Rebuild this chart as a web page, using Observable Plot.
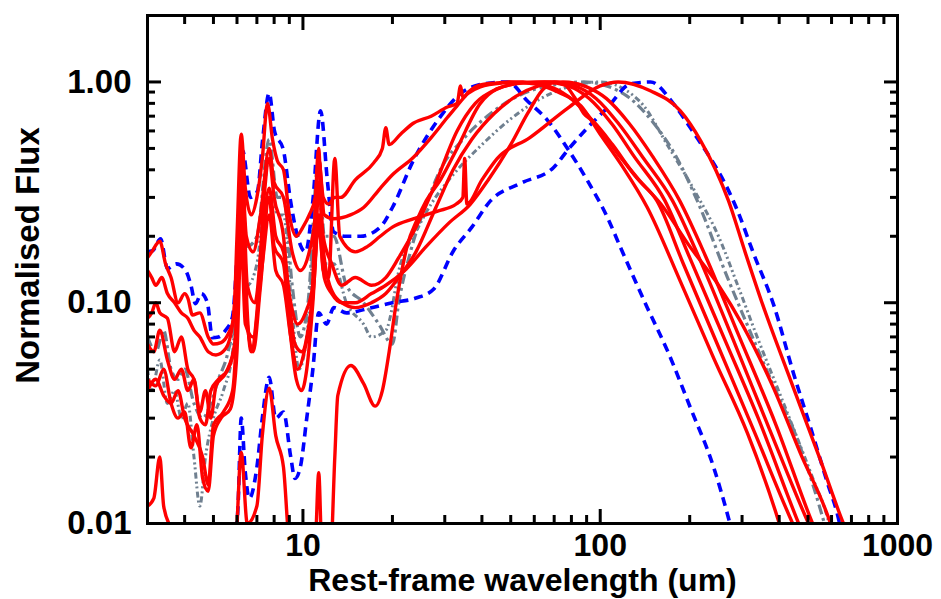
<!DOCTYPE html>
<html><head><meta charset="utf-8">
<script src="https://cdn.jsdelivr.net/npm/d3@7"></script>
<script src="https://cdn.jsdelivr.net/npm/@observablehq/plot@0.6"></script>
<style>html,body{margin:0;padding:0;background:#fff;} #chart{width:941px;height:599px;overflow:hidden}</style>
</head><body><div id="chart"></div>
<script>
// ---- data: [wavelength (um), normalised flux] ----
const red1 = [[3.0,0.16],[3.1,0.17],[3.3,0.19],[3.45,0.15],[3.6,0.13],[3.8,0.1],[4.0,0.11],[4.1,0.105],[4.25,0.088],[4.5,0.09],[4.8,0.07],[5.0,0.065],[5.3,0.066],[5.6,0.072],[5.85,0.085],[6.0,0.2],[6.2,0.58],[6.4,0.33],[6.7,0.25],[7.0,0.3],[7.3,0.45],[7.6,0.8],[7.9,0.55],[8.2,0.44],[8.6,0.4],[9.0,0.25],[9.5,0.2],[10.0,0.22],[10.5,0.25],[11.0,0.3],[11.3,0.45],[11.7,0.3],[12.2,0.28],[12.8,0.3],[13.4,0.3],[15,0.36],[17.3,0.43],[18.5,0.5],[19,0.62],[19.5,0.52],[21.3,0.58],[23.5,0.65],[27,0.7],[30.6,0.77],[33,0.8],[33.9,0.96],[34.5,0.85],[36,0.9],[39.5,0.97],[45,0.99],[50,1.0],[60,0.98],[72,0.9],[86,0.78],[100,0.58],[118,0.42],[144,0.27],[186,0.125],[241,0.056],[313,0.0256],[395,0.0106],[410,0.009]];
const red2 = [[3.0,0.14],[3.1,0.13],[3.2,0.12],[3.35,0.13],[3.5,0.11],[3.7,0.1],[3.9,0.09],[4.1,0.085],[4.3,0.075],[4.5,0.07],[4.8,0.06],[5.1,0.058],[5.5,0.062],[5.8,0.08],[6.0,0.15],[6.2,0.45],[6.45,0.2],[6.8,0.17],[7.2,0.25],[7.7,0.5],[8.0,0.35],[8.6,0.3],[9.2,0.17],[9.8,0.14],[10.5,0.17],[11.0,0.25],[11.3,0.45],[11.8,0.25],[12.7,0.24],[14.45,0.25],[16,0.27],[18.2,0.33],[20,0.38],[23.5,0.455],[27,0.56],[30.6,0.69],[33,0.78],[35.9,0.886],[39.5,0.95],[47,0.99],[55,1.0],[65,0.97],[78,0.86],[95,0.66],[115,0.47],[135,0.36],[155,0.29],[190,0.151],[250,0.063],[330,0.026],[444,0.01],[460,0.009]];
const red3 = [[3.0,0.012],[3.15,0.013],[3.3,0.02],[3.4,0.012],[3.6,0.0095],[4.0,0.007],[5.0,0.005],[5.9,0.007],[6.2,0.021],[6.5,0.01],[7.0,0.012],[7.3,0.025],[7.7,0.041],[8.1,0.025],[8.6,0.018],[9.0,0.008],[10,0.005],[11.0,0.008],[11.3,0.017],[11.6,0.007],[12.3,0.006],[12.8,0.02],[13.1,0.038],[14.5,0.052],[16,0.043],[17.5,0.034],[18.5,0.04],[19.5,0.06],[20.6,0.1],[21.3,0.13],[22.4,0.18],[24.3,0.24],[26,0.29],[29,0.36],[33,0.5],[39.5,0.8],[45,0.93],[55,0.99],[65,1.0],[78,0.96],[92,0.84],[110,0.64],[130,0.46],[165,0.29],[200,0.16],[260,0.07],[340,0.03],[465,0.01],[480,0.009]];
const red4 = [[3.0,0.085],[3.1,0.09],[3.2,0.1],[3.3,0.09],[3.5,0.085],[3.7,0.06],[3.9,0.07],[4.1,0.05],[4.3,0.045],[4.5,0.032],[4.7,0.04],[4.9,0.03],[5.1,0.042],[5.5,0.048],[5.9,0.065],[6.1,0.2],[6.25,0.5],[6.4,0.15],[6.7,0.06],[7.0,0.09],[7.4,0.3],[7.7,0.45],[8.0,0.3],[8.6,0.2],[9.0,0.1],[9.4,0.065],[9.9,0.06],[10.4,0.075],[11.0,0.15],[11.3,0.35],[11.7,0.2],[12.5,0.15],[13.5,0.12],[15,0.13],[17,0.12],[19,0.13],[21,0.16],[24,0.22],[28,0.35],[33,0.6],[38,0.8],[45,0.93],[55,0.99],[68,1.0],[82,0.96],[97,0.84],[115,0.65],[140,0.45],[175,0.29],[215,0.16],[280,0.068],[370,0.027],[502,0.01],[520,0.009]];
const red5 = [[3.0,0.065],[3.15,0.06],[3.3,0.075],[3.5,0.055],[3.7,0.045],[3.9,0.05],[4.1,0.04],[4.3,0.045],[4.5,0.03],[4.7,0.028],[4.9,0.04],[5.2,0.045],[5.6,0.05],[5.9,0.065],[6.1,0.15],[6.25,0.35],[6.5,0.12],[6.9,0.1],[7.3,0.2],[7.7,0.33],[8.1,0.2],[8.6,0.17],[9.1,0.1],[9.6,0.08],[10.2,0.09],[10.8,0.12],[11.3,0.22],[11.8,0.13],[12.5,0.11],[13.5,0.1],[15,0.1],[17,0.11],[19,0.12],[22,0.14],[26,0.18],[31,0.23],[36.6,0.28],[42,0.36],[50,0.52],[57,0.72],[64,0.92],[70,1.0],[76,0.97],[82,0.85],[88,0.72],[95,0.66],[110,0.52],[130,0.38],[160,0.28],[200,0.18],[250,0.12],[300,0.08],[380,0.042],[470,0.021],[595,0.01],[610,0.009]];
const red6 = [[3.0,0.04],[3.2,0.045],[3.4,0.038],[3.6,0.035],[3.8,0.04],[4.0,0.03],[4.3,0.025],[4.6,0.02],[4.8,0.015],[5.0,0.028],[5.4,0.032],[5.8,0.04],[6.0,0.08],[6.2,0.3],[6.4,0.1],[6.8,0.06],[7.2,0.12],[7.7,0.3],[8.0,0.18],[8.6,0.15],[9.0,0.08],[9.5,0.045],[9.9,0.04],[10.3,0.05],[10.8,0.1],[11.3,0.25],[11.7,0.14],[12.2,0.13],[12.8,0.45],[13.3,0.2],[15,0.17],[16.5,0.18],[18.2,0.2],[20,0.22],[23.5,0.24],[28.4,0.26],[32.8,0.28],[34.5,0.3],[35,0.45],[35.6,0.28],[40,0.36],[45,0.45],[58,0.56],[77.6,0.76],[100,0.96],[115,1.0],[148,0.91],[186,0.74],[218,0.54],[270,0.29],[307,0.17],[352,0.098],[437,0.0445],[551,0.0193],[658,0.01],[680,0.009]];
const red7 = [[3.0,0.045],[3.2,0.042],[3.4,0.05],[3.6,0.035],[3.8,0.03],[4.0,0.032],[4.2,0.022],[4.4,0.028],[4.6,0.016],[4.8,0.014],[5.0,0.025],[5.3,0.03],[5.7,0.033],[6.0,0.06],[6.2,0.2],[6.4,0.08],[6.8,0.07],[7.3,0.15],[7.7,0.25],[8.1,0.14],[8.6,0.12],[9.1,0.07],[9.6,0.05],[10.1,0.06],[10.7,0.1],[11.3,0.5],[11.6,0.2],[12.3,0.12],[13.5,0.1],[15,0.095],[17,0.1],[19,0.11],[21,0.13],[24,0.17],[28,0.27],[32,0.4],[37,0.55],[44,0.72],[52,0.86],[62,0.96],[75,1.0],[90,0.95],[105,0.84],[125,0.65],[150,0.46],[185,0.29],[225,0.165],[290,0.073],[390,0.028],[518,0.01],[535,0.009]];
const blueWarm = [[3.0,0.17],[3.12,0.172],[3.32,0.195],[3.5,0.143],[3.75,0.15],[4.03,0.14],[4.2,0.12],[4.35,0.099],[4.55,0.11],[4.77,0.10],[4.96,0.0695],[5.2,0.07],[5.49,0.075],[5.79,0.086],[6.05,0.2],[6.26,0.49],[6.66,0.3],[7.03,0.32],[7.31,0.54],[7.7,0.89],[8.02,0.6],[8.6,0.49],[9.08,0.29],[9.59,0.2],[10.2,0.17],[10.8,0.29],[11.46,0.74],[12.1,0.35],[12.67,0.21],[13.9,0.2],[15.6,0.2],[18.2,0.22],[20,0.27],[23.5,0.44],[28.4,0.67],[33.9,0.886],[40.5,0.98],[48.8,1.0],[56.9,0.82],[66.5,0.67],[77.6,0.5],[90.6,0.357],[105.8,0.243],[117,0.178],[144,0.095],[168,0.061],[201,0.0335],[241,0.0179],[270,0.0106],[285,0.008]];
const blueCold = [[5.9,0.008],[6.05,0.012],[6.2,0.03],[6.4,0.017],[6.6,0.013],[7.0,0.018],[7.3,0.03],[7.7,0.046],[8.1,0.03],[8.6,0.032],[9.1,0.02],[9.4,0.016],[9.8,0.018],[10.3,0.03],[10.8,0.05],[11.3,0.09],[12.0,0.08],[12.7,0.095],[14,0.09],[17,0.095],[20,0.1],[24,0.105],[27.5,0.115],[32.1,0.172],[37,0.22],[42.8,0.29],[53.9,0.347],[69.7,0.41],[77.6,0.49],[90.6,0.62],[105.8,0.765],[126.5,0.98],[147.7,1.0],[176,0.8],[201,0.62],[290,0.26],[328,0.167],[383,0.098],[447,0.0478],[510,0.0272],[582,0.0152],[628,0.011],[650,0.009]];
const grayDashDot = [[3.0,0.07],[3.2,0.06],[3.4,0.075],[3.6,0.05],[3.8,0.045],[4.0,0.05],[4.3,0.035],[4.6,0.03],[4.9,0.035],[5.2,0.045],[5.6,0.06],[5.9,0.09],[6.2,0.35],[6.5,0.18],[7.0,0.2],[7.7,0.55],[8.2,0.3],[8.6,0.3],[9.2,0.12],[9.8,0.07],[10.4,0.1],[11.3,0.45],[11.8,0.2],[12.7,0.2],[14,0.12],[16,0.1],[18,0.08],[20,0.065],[21,0.1],[23,0.17],[26,0.28],[29,0.4],[35,0.56],[42.8,0.72],[50,0.83],[58,0.91],[70,0.97],[88,1.0],[105,0.96],[125,0.85],[150,0.66],[180,0.46],[212,0.29],[268,0.13],[328,0.068],[383,0.042],[461,0.024],[551,0.0115],[580,0.009]];
const grayDotted = [[3.0,0.05],[3.1,0.04],[3.3,0.055],[3.5,0.035],[3.7,0.04],[3.9,0.03],[4.1,0.035],[4.3,0.02],[4.5,0.012],[4.7,0.02],[5.0,0.03],[5.4,0.04],[5.8,0.06],[6.2,0.25],[6.5,0.12],[7.0,0.15],[7.7,0.45],[8.2,0.25],[8.6,0.25],[9.2,0.09],[9.7,0.05],[10.3,0.07],[11.3,0.35],[11.8,0.15],[12.7,0.15],[14,0.1],[16,0.08],[17,0.07],[19,0.075],[21.3,0.15],[24,0.21],[27,0.28],[32,0.38],[40,0.52],[50,0.68],[62,0.83],[78,0.95],[100,1.0],[120,0.93],[140,0.78],[168,0.52],[208,0.32],[250,0.2],[290,0.12],[340,0.068],[404,0.038],[522,0.0157],[582,0.0106],[600,0.009]];

const xMajor = [10, 100, 1000];
const xMajorLabels = ["10", "100", "1000"];
const xMinor = [4,5,6,7,8,9,20,30,40,50,60,70,80,90,200,300,400,500,600,700,800,900];
const yMajor = [0.01, 0.1, 1];
const yMajorLabels = ["0.01", "0.10", "1.00"];
const yMinor = [0.02,0.03,0.04,0.05,0.06,0.07,0.08,0.09,0.2,0.3,0.4,0.5,0.6,0.7,0.8,0.9];
const xTitle = "Rest-frame wavelength (um)";
const yTitle = "Normalised Flux";

// ---- series styling ----
const series = [
  {name: "grayDashDot", pts: grayDashDot, stroke: "#708090", dash: "10,4,3,4", width: 3.2},
  {name: "grayDotted", pts: grayDotted, stroke: "#708090", dash: "6,3,2,3,2,3", width: 3},
  {name: "blueWarm", pts: blueWarm, stroke: "#0000ff", dash: "9,6", width: 3.6},
  {name: "blueCold", pts: blueCold, stroke: "#0000ff", dash: "9,6", width: 3.6},
  {name: "red1", pts: red1, stroke: "#ff0000", dash: null, width: 3.4},
  {name: "red2", pts: red2, stroke: "#ff0000", dash: null, width: 3.4},
  {name: "red3", pts: red3, stroke: "#ff0000", dash: null, width: 3.4},
  {name: "red4", pts: red4, stroke: "#ff0000", dash: null, width: 3.4},
  {name: "red5", pts: red5, stroke: "#ff0000", dash: null, width: 3.4},
  {name: "red6", pts: red6, stroke: "#ff0000", dash: null, width: 3.4},
  {name: "red7", pts: red7, stroke: "#ff0000", dash: null, width: 3.4}
];

const FONT = "'Liberation Sans', Arial, Helvetica, sans-serif";
const xLab = new Map(xMajor.map((v, i) => [v, xMajorLabels[i]]));
const yLab = new Map(yMajor.map((v, i) => [v, yMajorLabels[i]]));

const lineMarks = series.map(s => Plot.line(s.pts.map(([x, y]) => ({x, y})), {
  x: "x", y: "y", stroke: s.stroke, strokeWidth: s.width,
  strokeDasharray: s.dash || undefined, curve: "monotone-x", clip: true,
  strokeLinejoin: "round", strokeLinecap: s.dash ? "butt" : "round"
}));

const chart = Plot.plot({
  width: 941, height: 599,
  marginLeft: 147, marginRight: 44, marginTop: 15, marginBottom: 76,
  style: {fontFamily: FONT, fontWeight: "bold", background: "#fff", color: "#000"},
  x: {type: "log", domain: [3, 1000]},
  y: {type: "log", domain: [0.01, 2]},
  marks: [
    ...lineMarks,
    // inward ticks on all four sides
    Plot.axisX(xMajor, {anchor: "bottom", tickSize: -14, strokeWidth: 3, tickFormat: () => "", label: null}),
    Plot.axisX(xMinor, {anchor: "bottom", tickSize: -8, strokeWidth: 3, tickFormat: () => "", label: null}),
    Plot.axisX(xMajor, {anchor: "top", tickSize: -14, strokeWidth: 3, tickFormat: () => "", label: null}),
    Plot.axisX(xMinor, {anchor: "top", tickSize: -8, strokeWidth: 3, tickFormat: () => "", label: null}),
    Plot.axisY(yMajor, {anchor: "left", tickSize: -14, strokeWidth: 3, tickFormat: () => "", label: null}),
    Plot.axisY(yMinor, {anchor: "left", tickSize: -8, strokeWidth: 3, tickFormat: () => "", label: null}),
    Plot.axisY(yMajor, {anchor: "right", tickSize: -14, strokeWidth: 3, tickFormat: () => "", label: null}),
    Plot.axisY(yMinor, {anchor: "right", tickSize: -8, strokeWidth: 3, tickFormat: () => "", label: null}),
    // tick labels
    Plot.axisX(xMajor, {anchor: "bottom", tickSize: 0, tickPadding: 10, tickFormat: d => xLab.get(d), fontSize: 32, fontWeight: "bold", label: null}),
    Plot.axisY(yMajor, {anchor: "left", tickSize: 0, tickPadding: 16, tickFormat: d => yLab.get(d), fontSize: 33, fontWeight: "bold", label: null}),
    // axis titles
    Plot.text([xTitle], {frameAnchor: "bottom", dy: 57, text: d => d, fontSize: 32, fontWeight: "bold", lineAnchor: "middle", textAnchor: "middle"}),
    Plot.text([yTitle], {frameAnchor: "left", dx: -119, dy: -14, text: d => d, rotate: -90, fontSize: 33, fontWeight: "bold", lineAnchor: "middle", textAnchor: "middle"}),
    Plot.frame({strokeWidth: 3, stroke: "#000"})
  ]
});
document.getElementById("chart").appendChild(chart);
</script></body></html>
